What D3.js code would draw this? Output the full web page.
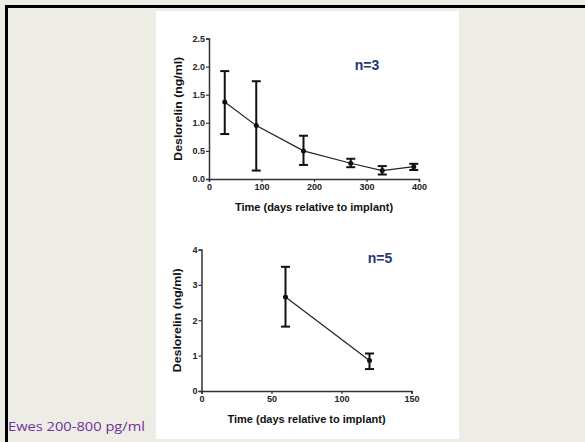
<!DOCTYPE html>
<html>
<head>
<meta charset="utf-8">
<script src="https://cdn.jsdelivr.net/npm/d3@7"></script>
<style>
  body { margin: 0; background: #eeede5; }
  svg { display: block; }
</style>
</head>
<body>
<div id="chart"></div>
<script>
// Data
const topDays = [30, 90, 180, 270, 330, 390];
const topMean = [1.37, 0.95, 0.50, 0.28, 0.15, 0.22];
const topHigh = [1.92, 1.74, 0.77, 0.36, 0.23, 0.27];
const topLow = [0.80, 0.15, 0.25, 0.21, 0.08, 0.16];
const topXTicks = [0, 100, 200, 300, 400];
const topYTicks = [0, 0.5, 1.0, 1.5, 2.0, 2.5];

const botDays = [60, 120];
const botMean = [2.66, 0.86];
const botHigh = [3.51, 1.06];
const botLow = [1.82, 0.62];
const botXTicks = [0, 50, 100, 150];
const botYTicks = [0, 1, 2, 3, 4];

const svg = d3.select("#chart").append("svg")
    .attr("width", 585).attr("height", 442);

// slide background, frame and white picture panel
svg.append("rect").attr("width", 585).attr("height", 442).attr("fill", "#eeede5");
svg.append("path")
    .attr("d", "M6.5,442 V6.5 H585")
    .attr("fill", "none").attr("stroke", "#000").attr("stroke-width", 3);
svg.append("rect").attr("x", 156).attr("y", 11).attr("width", 303).attr("height", 428).attr("fill", "#fff");

const font = "Liberation Sans, Arial, sans-serif";

function drawPanel(opt) {
    const g = svg.append("g");
    const x = d3.scaleLinear().domain(opt.xDomain).range([opt.x0, opt.x1]);
    const y = d3.scaleLinear().domain(opt.yDomain).range([opt.y0, opt.y1]);

    // axes
    const xa = g.append("g")
        .attr("transform", `translate(0,${opt.y0})`)
        .call(d3.axisBottom(x).tickValues(opt.xTicks).tickSize(3).tickPadding(2).tickFormat(d3.format("d")));
    const ya = g.append("g")
        .attr("transform", `translate(${opt.x0},0)`)
        .call(d3.axisLeft(y).tickValues(opt.yTicks).tickSize(3).tickPadding(1).tickFormat(opt.yFormat));
    [xa, ya].forEach(a => {
        a.select(".domain").attr("stroke", "#333").attr("stroke-width", 1.5);
        a.selectAll(".tick line").attr("stroke", "#333").attr("stroke-width", 1.2);
        a.selectAll(".tick text").attr("fill", "#222")
            .style("font-family", font)
            .style("font-size", "9px").style("font-weight", "bold");
    });

    // axis titles
    g.append("text")
        .attr("x", (opt.x0 + opt.x1) / 2).attr("y", opt.y0 + 32)
        .attr("text-anchor", "middle")
        .style("font-family", font)
        .style("font-size", "11px").style("font-weight", "bold").attr("fill", "#111")
        .text("Time (days relative to implant)");
    g.append("text")
        .attr("transform", `translate(${opt.x0 - opt.yTitleOff},${(opt.y0 + opt.y1) / 2}) rotate(-90) scale(1.12,1)`)
        .attr("text-anchor", "middle")
        .style("font-family", font)
        .style("font-size", "11px").style("font-weight", "bold").attr("fill", "#111")
        .text("Deslorelin (ng/ml)");

    const pts = opt.days.map((d, i) => ({ d: d, m: opt.mean[i], hi: opt.high[i], lo: opt.low[i] }));

    // connecting line
    g.append("path")
        .datum(pts)
        .attr("fill", "none").attr("stroke", "#222").attr("stroke-width", 1.2)
        .attr("d", d3.line().x(p => x(p.d)).y(p => y(p.m)));

    // error bars
    const eb = g.selectAll(".eb").data(pts).enter().append("g");
    eb.append("line")
        .attr("x1", p => x(p.d)).attr("x2", p => x(p.d))
        .attr("y1", p => y(p.hi)).attr("y2", p => y(p.lo))
        .attr("stroke", "#111").attr("stroke-width", 2);
    ["hi", "lo"].forEach(k => {
        eb.append("line")
            .attr("x1", p => x(p.d) - 4.5).attr("x2", p => x(p.d) + 4.5)
            .attr("y1", p => y(p[k])).attr("y2", p => y(p[k]))
            .attr("stroke", "#111").attr("stroke-width", 2);
    });
    eb.append("circle")
        .attr("cx", p => x(p.d)).attr("cy", p => y(p.m)).attr("r", 2.5)
        .attr("fill", "#111");

    // n label
    g.append("text")
        .attr("x", opt.nx).attr("y", opt.ny)
        .attr("text-anchor", "middle")
        .style("font-family", font)
        .style("font-size", "14px").style("font-weight", "bold")
        .attr("fill", "#1f3a6e")
        .text(opt.nText);
}

drawPanel({
    xDomain: [0, 400], yDomain: [0, 2.5],
    x0: 209, x1: 419, y0: 179, y1: 38.5,
    xTicks: topXTicks, yTicks: topYTicks, yFormat: d3.format(".1f"),
    days: topDays, mean: topMean, high: topHigh, low: topLow,
    yTitleOff: 27,
    nText: "n=3", nx: 367, ny: 70
});

drawPanel({
    xDomain: [0, 150], yDomain: [0, 4],
    x0: 201.5, x1: 411.5, y0: 391, y1: 249.5,
    xTicks: botXTicks, yTicks: botYTicks, yFormat: d3.format("d"),
    days: botDays, mean: botMean, high: botHigh, low: botLow,
    yTitleOff: 21,
    nText: "n=5", nx: 380, ny: 263
});

svg.append("text")
    .attr("x", 8).attr("y", 431)
    .attr("textLength", 137).attr("lengthAdjust", "spacingAndGlyphs")
    .style("font-family", "Open Sans, Noto Sans, sans-serif")
    .style("font-size", "13.5px")
    .attr("fill", "#7030a0")
    .text("Ewes 200-800 pg/ml");
</script>
</body>
</html>
